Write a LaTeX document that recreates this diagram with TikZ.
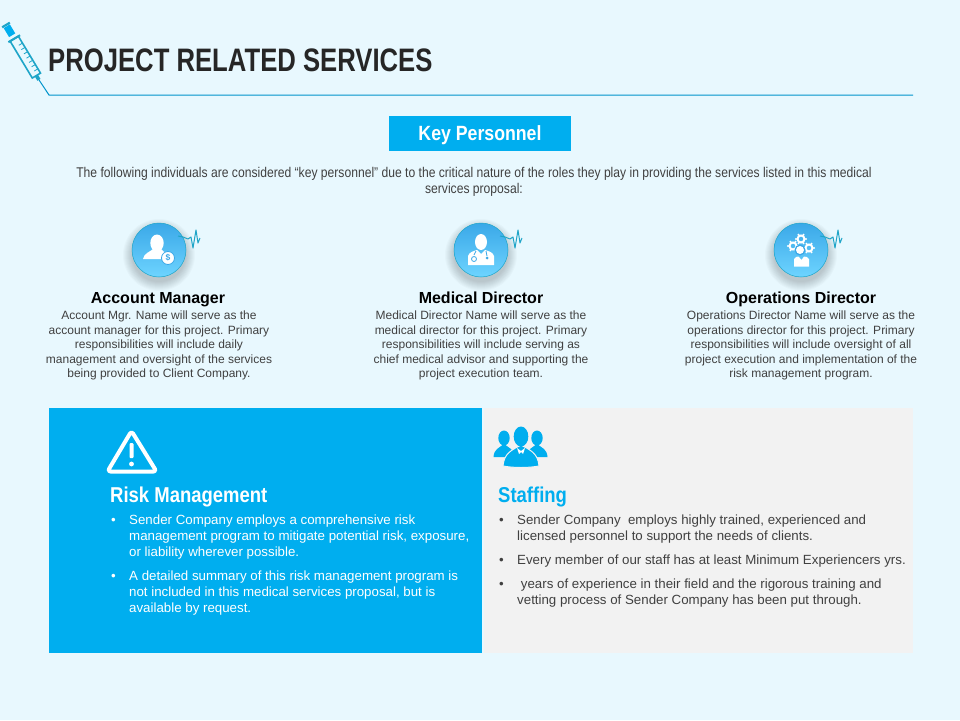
\documentclass[tikz,border=0pt]{standalone}
\usepackage{fontspec}
\usepackage{tikz}
\setmainfont{Liberation Sans}
\newfontfamily\narrowfont[FakeStretch=0.86]{Liberation Sans}
\newfontfamily\titlefont[FakeStretch=0.79]{Liberation Sans}
\definecolor{pagebg}{RGB}{232, 248, 254}
\definecolor{skyblue}{RGB}{0, 174, 239}
\definecolor{panelgrey}{RGB}{242, 242, 242}
\definecolor{bodygrey}{RGB}{64, 64, 64}
\definecolor{titledark}{RGB}{38, 38, 38}
\definecolor{discdark}{RGB}{58, 168, 232}
\definecolor{disclight}{RGB}{110, 212, 255}
\definecolor{pulseteal}{RGB}{30, 165, 200}
\tikzset{
  panel/.style={minimum width=#1, minimum height=245, inner sep=0, outer sep=0, anchor=north west},
  heading/.style={font=\bfseries\fontsize{16}{18}\selectfont, text=black, inner sep=0, anchor=base},
  blurb/.style={font=\fontsize{12}{14.4}\selectfont, text=bodygrey, align=center, inner sep=0},
  bulletline/.style={font=\fontsize{13.3}{16}\selectfont, align=left, anchor=north west, inner sep=0},
  paneltitle/.style={font=\narrowfont\bfseries\fontsize{21.5}{24}\selectfont, anchor=base west, inner sep=0},
  disc/.style={circle, minimum size=54, inner sep=0, draw=pulseteal, line width=0.5, top color=discdark, bottom color=disclight},
  pulse/.style={pulseteal, line width=1, line join=round},
  syringe/.style={pulseteal, line width=1.6}
}
\begin{document}
\begin{tikzpicture}[x=1pt, y=-1pt]
\useasboundingbox (0,0) rectangle (960,720);
\fill[pagebg] (0,0) rectangle (960,720);

% Syringe and header rule
\begin{scope}[shift={(6,25)}, rotate=-59]
\fill[skyblue] (1.5,-3.6) rectangle (12,3.6);
\draw[syringe, line width=2.2] (0,-4.5) -- (0,4.5);
\draw[syringe, line width=2] (16,-6.8) -- (16,6.8);
\draw[syringe] (16,-4.8) rectangle (59,4.8);
\foreach \t in {24,29,...,54} {\draw[syringe, line width=0.8] (\t,-0.5) -- (\t,-4.8);}
\fill[pulseteal] (59,-1.8) rectangle (64,1.8);
\coordinate (needletop) at (64,0);
\coordinate (needletip) at (82,0);
\end{scope}
\coordinate (ruleend) at (913,95);
\draw[skyblue!85!black, line width=1] (needletop) -- (49,95) -- (ruleend);
\node[font=\titlefont\bfseries\fontsize{32.5}{36}\selectfont, text=titledark, anchor=west, inner sep=0] (title) at (48,60) {PROJECT RELATED SERVICES};

% Key personnel banner
\node[fill=skyblue, minimum width=182, minimum height=35, inner sep=0] (banner) at (480,133.5) {};
\node[text=white, font=\narrowfont\bfseries\fontsize{20.6}{22}\selectfont, inner sep=0] (bannertext) at (480,135.5) {Key Personnel};
\node[font=\narrowfont\fontsize{14.1}{16}\selectfont, text=bodygrey, align=center, inner sep=0] (intro) at (474,182) {The following individuals are considered “key personnel” due to the critical nature of the roles they play in providing the services listed in this medical\\services proposal:};

% Role discs with soft shadow and pulse
\foreach \name/\cx in {mgr/159, dir/481, ops/801} {
  \foreach \r in {36,35,...,27} {\fill[black, opacity=0.018] (\cx,255) circle (\r);}
  \node[disc] (\name) at (\cx,250) {};
  \begin{scope}[shift={(\cx,250)}]
  \draw[pulse] (19,-14) -- (24,-13) -- (29,-11) -- (32,-13) -- (34,-2) -- (37,-20) -- (39,-7) -- (41,-12);
  \end{scope}
}

% Account manager icon
\begin{scope}[shift={(159,250)}]
\fill[white] (-2,-7) ellipse (6.7 and 8.5);
\fill[white] (-16,9) .. controls (-15,3) and (-9,2) .. (-6,-1) -- (2,-1) .. controls (4,1) and (5,2) .. (7,3) -- (3,9) -- cycle;
\node[circle, fill=white, draw=discdark, line width=0.8, minimum size=13, inner sep=0, text=discdark, font=\bfseries\fontsize{8.5}{8}\selectfont] (dollar) at (9,8) {\$};
\end{scope}

% Medical director icon
\begin{scope}[shift={(481,250)}]
\fill[white] (0,-8) ellipse (6 and 8);
\fill[white] (-13,15) -- (-13,6) .. controls (-12,2) and (-7,1) .. (-4,0) -- (0,4) -- (4,0) .. controls (7,1) and (12,2) .. (13,6) -- (13,15) -- cycle;
\draw[discdark, line width=0.8] (-5,1) -- (-7,5);
\draw[discdark, line width=0.8] (-7,9) circle (2.5);
\draw[discdark, line width=0.8] (5,1) -- (6,6);
\fill[discdark] (6,8) circle (1.5);
\end{scope}

% Operations director icon
\begin{scope}[shift={(801,250)}]
\foreach \gx/\gy in {-8/-4, 8/-2, 0/-11} {
  \draw[white, line width=2] (\gx,\gy) circle (3.5);
  \foreach \a in {0,60,...,300} {\fill[white] (\gx,\gy) ++(\a:5) circle (1.1);}
}
\fill[discdark] (-1,0) circle (5.5);
\fill[white] (-1,0) circle (4);
\fill[white] (-7,16.5) -- (-7,9) .. controls (-6,7) and (-4,6.5) .. (-2.5,6.5) -- (0.5,10) -- (3,6.5) .. controls (5,6.5) and (7,7) .. (8,9) -- (8,16.5) -- cycle;
\end{scope}

% Role texts
\node[heading] (mgrname) at (158,303) {Account Manager};
\node[blurb] (mgrtext) at (159,345.5) {Account Mgr. Name will serve as the\\account manager for this project. Primary\\responsibilities will include daily\\management and oversight of the services\\being provided to Client Company.};
\node[heading] (dirname) at (481,303) {Medical Director};
\node[blurb] (dirtext) at (481,345.5) {Medical Director Name will serve as the\\medical director for this project. Primary\\responsibilities will include serving as\\chief medical advisor and supporting the\\project execution team.};
\node[heading] (opsname) at (801,303) {Operations Director};
\node[blurb] (opstext) at (801,345.5) {Operations Director Name will serve as the\\operations director for this project. Primary\\responsibilities will include oversight of all\\project execution and implementation of the\\risk management program.};

% Panels
\node[panel=433, fill=skyblue] (riskpanel) at (49,408) {};
\node[panel=429, fill=panelgrey] (staffpanel) at (484,408) {};

% Warning sign
\draw[white, line width=4, rounded corners=3, line join=round] (131.5,431) -- (156.5,471.5) -- (107.5,471.5) -- cycle;
\fill[white, rounded corners=1] (129.5,443) rectangle (133.5,458);
\fill[white] (131.5,464) circle (2.4);

% Team icon
\foreach \hx in {504,537} {
  \fill[skyblue] (\hx,438) ellipse (5.7 and 7.5);
  \fill[skyblue] (\hx-10.5,457) .. controls (\hx-10,449) and (\hx-5,448) .. (\hx,444) .. controls (\hx+5,448) and (\hx+10,449) .. (\hx+10.5,457) -- cycle;
}
\fill[skyblue, draw=panelgrey, line width=1] (503,466) .. controls (504,453) and (512,450) .. (521,445) .. controls (530,450) and (538,453) .. (539,466) .. controls (528,468) and (514,468) .. (503,466) -- cycle;
\fill[skyblue] (521,436.5) ellipse (7.3 and 10);
\fill[white] (517,448) -- (521,451) -- (525,448) -- (523,454) -- (521,452) -- (519,454) -- cycle;

% Risk management text
\node[paneltitle, text=white] (risktitle) at (110,502) {Risk Management};
\node[bulletline, text=white] (riskdot1) at (111,518) {•};
\node[bulletline, text=white] (riskone) at (129,514.8) {Sender Company employs a comprehensive risk\\management program to mitigate potential risk, exposure,\\or liability wherever possible.};
\node[bulletline, text=white] (riskdot2) at (111,574) {•};
\node[bulletline, text=white] (risktwo) at (129,570.8) {A detailed summary of this risk management program is\\not included in this medical services proposal, but is\\available by request.};

% Staffing text
\node[paneltitle, text=skyblue] (stafftitle) at (498,502) {Staffing};
\node[bulletline, text=bodygrey] (staffdot1) at (499,518) {•};
\node[bulletline, text=bodygrey] (staffone) at (517,514.8) {Sender Company~ employs highly trained, experienced and\\licensed personnel to support the needs of clients.};
\node[bulletline, text=bodygrey] (staffdot2) at (499,558) {•};
\node[bulletline, text=bodygrey] (stafftwo) at (517,554.8) {Every member of our staff has at least Minimum Experiencers yrs.};
\node[bulletline, text=bodygrey] (staffdot3) at (499,582) {•};
\node[bulletline, text=bodygrey] (staffthree) at (517,578.8) {~years of experience in their field and the rigorous training and\\vetting process of Sender Company has been put through.};
\end{tikzpicture}
\end{document}
